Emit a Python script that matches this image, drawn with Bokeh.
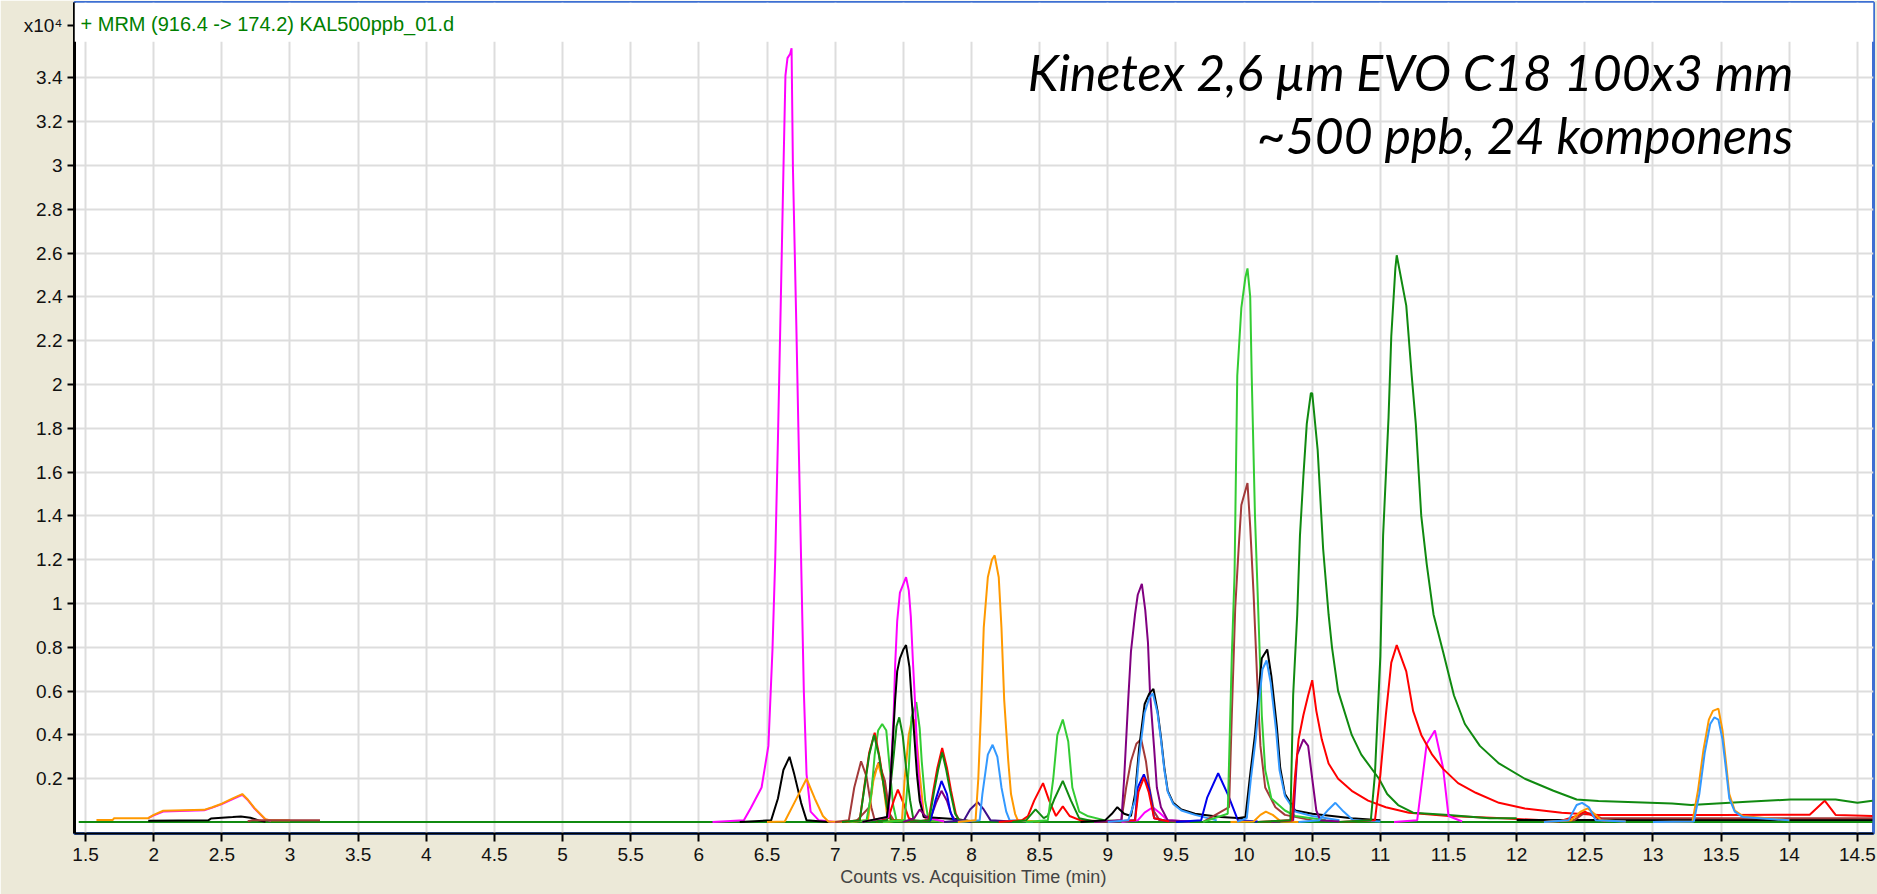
from bokeh.plotting import figure
from bokeh.models import FixedTicker, Label, BoxAnnotation, Range1d, CustomJSTickFormatter
from bokeh.embed import file_html
from bokeh.resources import INLINE

# ---------------- axis ticks ----------------
x_ticks = [1.5, 2.0, 2.5, 3.0, 3.5, 4.0, 4.5, 5.0, 5.5, 6.0, 6.5, 7.0, 7.5, 8.0, 8.5,
           9.0, 9.5, 10.0, 10.5, 11.0, 11.5, 12.0, 12.5, 13.0, 13.5, 14.0, 14.5]
x_tick_labels = ["1.5", "2", "2.5", "3", "3.5", "4", "4.5", "5", "5.5", "6", "6.5", "7", "7.5",
                 "8", "8.5", "9", "9.5", "10", "10.5", "11", "11.5", "12", "12.5", "13", "13.5",
                 "14", "14.5"]
y_ticks = [0.2, 0.4, 0.6, 0.8, 1.0, 1.2, 1.4, 1.6, 1.8, 2.0, 2.2, 2.4, 2.6, 2.8, 3.0, 3.2, 3.4]
y_tick_labels = ["0.2", "0.4", "0.6", "0.8", "1", "1.2", "1.4", "1.6", "1.8", "2", "2.2", "2.4",
                 "2.6", "2.8", "3", "3.2", "3.4"]
y_exponent_pos = 3.64
y_exponent_label = "x10⁴"

# ---------------- traces (time in min, counts x10^4) ----------------
green_base_t = [1.45, 14.61]
green_base_v = [0.003, 0.003]

orange_e_t = [1.58, 1.70, 1.71, 1.96, 2.00, 2.07, 2.37, 2.43, 2.50, 2.58, 2.65, 2.69, 2.74, 2.82, 2.86, 3.00]
orange_e_v = [0.012, 0.012, 0.02, 0.02, 0.035, 0.054, 0.058, 0.07, 0.086, 0.11, 0.13, 0.105, 0.066, 0.015, 0.01, 0.01]
magenta_e_t = [1.96, 2.00, 2.07, 2.37, 2.43, 2.50, 2.58, 2.65, 2.69, 2.74, 2.82, 2.86]
magenta_e_v = [0.02, 0.033, 0.05, 0.056, 0.068, 0.084, 0.107, 0.127, 0.103, 0.064, 0.014, 0.008]
black_e_t = [1.96, 2.40, 2.42, 2.58, 2.64, 2.71, 2.77, 2.82]
black_e_v = [0.008, 0.01, 0.018, 0.025, 0.028, 0.022, 0.01, 0.004]
brown_e_t = [2.69, 2.72, 3.22]
brown_e_v = [0.006, 0.01, 0.01]

magenta_a_t = [6.10, 6.33, 6.38, 6.46, 6.51, 6.54, 6.56, 6.58, 6.60, 6.62, 6.635, 6.65, 6.67,
               6.68, 6.69, 6.715, 6.73, 6.75, 6.77, 6.79, 6.82, 6.88, 7.0]
magenta_a_v = [0.003, 0.01, 0.065, 0.16, 0.35, 0.79, 1.2, 1.75, 2.35, 2.97, 3.41, 3.49, 3.51,
               3.535, 2.99, 2.27, 1.8, 1.2, 0.6, 0.22, 0.05, 0.01, 0.003]
black_a_t = [6.3, 6.53, 6.58, 6.62, 6.665, 6.70, 6.75, 6.79, 6.95]
black_a_v = [0.003, 0.01, 0.11, 0.24, 0.30, 0.22, 0.09, 0.01, 0.003]
orange_a_t = [6.5, 6.63, 6.70, 6.79, 6.85, 6.91, 6.95, 7.1]
orange_a_v = [0.003, 0.005, 0.09, 0.20, 0.11, 0.03, 0.005, 0.003]

brown_b_t = [7.0, 7.1, 7.14, 7.19, 7.23, 7.265, 7.29, 7.4]
brown_b_v = [0.003, 0.01, 0.16, 0.28, 0.21, 0.07, 0.01, 0.005]
brown_c_t = [7.15, 7.25, 7.28, 7.32, 7.365, 7.40, 7.43, 7.6]
brown_c_v = [0.003, 0.07, 0.21, 0.275, 0.19, 0.04, 0.01, 0.005]
dgreen_b_t = [7.05, 7.18, 7.215, 7.25, 7.285, 7.32, 7.35, 7.38, 7.41, 7.6]
dgreen_b_v = [0.003, 0.01, 0.16, 0.31, 0.40, 0.31, 0.19, 0.07, 0.01, 0.005]
red_b_t = [7.05, 7.18, 7.215, 7.25, 7.29, 7.325, 7.355, 7.385, 7.41, 7.6]
red_b_v = [0.003, 0.01, 0.17, 0.32, 0.41, 0.30, 0.18, 0.06, 0.01, 0.005]
lgreen_b_t = [7.1, 7.23, 7.265, 7.29, 7.315, 7.345, 7.375, 7.40, 7.425, 7.45, 7.6]
lgreen_b_v = [0.003, 0.01, 0.13, 0.31, 0.42, 0.45, 0.42, 0.25, 0.08, 0.01, 0.005]
orange_b_t = [7.1, 7.24, 7.28, 7.315, 7.35, 7.38, 7.42, 7.55]
orange_b_v = [0.003, 0.01, 0.19, 0.27, 0.19, 0.04, 0.01, 0.005]
magenta_c_t = [7.2, 7.39, 7.41, 7.43, 7.44, 7.455, 7.475, 7.52, 7.54, 7.555, 7.57, 7.585, 7.60, 7.62, 7.65, 7.8]
magenta_c_v = [0.003, 0.025, 0.25, 0.51, 0.72, 0.92, 1.05, 1.12, 1.06, 0.94, 0.74, 0.56, 0.34, 0.13, 0.025, 0.005]
black_c_t = [7.2, 7.38, 7.40, 7.42, 7.44, 7.455, 7.475, 7.50, 7.52, 7.545, 7.56, 7.58, 7.60, 7.62, 7.65, 7.9, 8.0]
black_c_v = [0.003, 0.025, 0.13, 0.34, 0.56, 0.69, 0.75, 0.79, 0.81, 0.71, 0.57, 0.40, 0.22, 0.10, 0.025, 0.015, 0.005]
dgreen_c_t = [7.25, 7.38, 7.40, 7.43, 7.45, 7.47, 7.495, 7.52, 7.55, 7.575, 7.7]
dgreen_c_v = [0.003, 0.01, 0.13, 0.31, 0.44, 0.48, 0.40, 0.25, 0.10, 0.01, 0.005]
orange_c_t = [7.35, 7.49, 7.51, 7.54, 7.56, 7.58, 7.595, 7.62, 7.65, 7.67, 7.8]
orange_c_v = [0.003, 0.01, 0.2, 0.40, 0.46, 0.47, 0.40, 0.22, 0.04, 0.01, 0.005]
lgreen_c_t = [7.35, 7.51, 7.54, 7.56, 7.595, 7.62, 7.635, 7.66, 7.685, 7.8]
lgreen_c_v = [0.003, 0.01, 0.25, 0.48, 0.55, 0.43, 0.28, 0.10, 0.01, 0.005]
red_c_t = [7.3, 7.39, 7.43, 7.46, 7.50, 7.54, 7.6]
red_c_v = [0.003, 0.02, 0.10, 0.15, 0.09, 0.02, 0.005]
red_d_t = [7.55, 7.685, 7.72, 7.75, 7.785, 7.82, 7.85, 7.885, 7.91, 8.05]
red_d_v = [0.003, 0.01, 0.145, 0.25, 0.34, 0.25, 0.145, 0.04, 0.01, 0.005]
dgreen_d_t = [7.55, 7.69, 7.725, 7.755, 7.785, 7.815, 7.845, 7.88, 7.91, 8.05]
dgreen_d_v = [0.003, 0.01, 0.14, 0.24, 0.32, 0.24, 0.14, 0.04, 0.01, 0.005]
blue_d_t = [7.55, 7.70, 7.735, 7.78, 7.82, 7.845, 7.87, 8.0]
blue_d_v = [0.003, 0.01, 0.10, 0.19, 0.13, 0.05, 0.01, 0.005]
purple_d_t = [7.5, 7.58, 7.62, 7.66, 7.70, 7.74, 7.78, 7.82, 7.85, 7.88, 8.0]
purple_d_v = [0.003, 0.02, 0.06, 0.03, 0.02, 0.09, 0.145, 0.10, 0.04, 0.01, 0.005]
indigo_e_t = [7.8, 7.945, 7.99, 8.045, 8.09, 8.14, 8.3]
indigo_e_v = [0.003, 0.01, 0.06, 0.093, 0.06, 0.01, 0.005]
orange_f_t = [7.9, 8.03, 8.05, 8.07, 8.09, 8.12, 8.15, 8.17, 8.2, 8.22, 8.24, 8.27, 8.29, 8.32, 8.34, 8.5]
orange_f_v = [0.003, 0.01, 0.2, 0.51, 0.89, 1.12, 1.2, 1.22, 1.12, 0.89, 0.56, 0.28, 0.13, 0.04, 0.01, 0.005]
lblue_f_t = [7.9, 8.06, 8.08, 8.12, 8.155, 8.19, 8.22, 8.255, 8.28, 8.45]
lblue_f_v = [0.003, 0.01, 0.13, 0.31, 0.355, 0.30, 0.16, 0.05, 0.01, 0.005]

red_g_t = [8.2, 8.37, 8.415, 8.46, 8.525, 8.57, 8.62, 8.67, 8.72, 8.8, 9.0]
red_g_v = [0.003, 0.01, 0.03, 0.10, 0.18, 0.10, 0.03, 0.074, 0.03, 0.01, 0.005]
dgreen_g_t = [8.3, 8.40, 8.47, 8.53, 8.56, 8.61, 8.67, 8.73, 8.79, 8.9]
dgreen_g_v = [0.003, 0.01, 0.06, 0.02, 0.03, 0.11, 0.19, 0.10, 0.02, 0.005]
lgreen_g_t = [8.4, 8.56, 8.60, 8.63, 8.67, 8.71, 8.74, 8.79, 8.85, 8.98, 9.1]
lgreen_g_v = [0.003, 0.01, 0.2, 0.40, 0.47, 0.37, 0.16, 0.05, 0.03, 0.01, 0.005]

purple_h_t = [8.9, 9.10, 9.12, 9.15, 9.17, 9.20, 9.22, 9.25, 9.275, 9.295, 9.31, 9.34, 9.36, 9.39, 9.44, 9.6]
purple_h_v = [0.003, 0.01, 0.2, 0.56, 0.78, 0.95, 1.04, 1.09, 0.97, 0.82, 0.59, 0.34, 0.16, 0.07, 0.01, 0.005]
brown_h_t = [8.9, 9.10, 9.135, 9.17, 9.21, 9.245, 9.28, 9.305, 9.34, 9.38, 9.5]
brown_h_v = [0.003, 0.01, 0.16, 0.28, 0.36, 0.38, 0.28, 0.16, 0.05, 0.01, 0.005]
black_h_t = [8.8, 8.98, 9.03, 9.07, 9.12, 9.17, 9.2, 9.23, 9.27, 9.305, 9.335, 9.365, 9.39,
             9.415, 9.44, 9.48, 9.54, 9.64, 9.83, 9.98, 10.0]
black_h_v = [0.003, 0.01, 0.04, 0.07, 0.04, 0.03, 0.13, 0.34, 0.54, 0.59, 0.61, 0.51, 0.39,
             0.25, 0.145, 0.09, 0.06, 0.04, 0.025, 0.02, 0.01]
lblue_h_t = [9.0, 9.15, 9.2, 9.23, 9.27, 9.305, 9.33, 9.365, 9.39, 9.415, 9.44, 9.48, 9.54, 9.64, 9.8]
lblue_h_v = [0.003, 0.01, 0.1, 0.3, 0.5, 0.57, 0.59, 0.50, 0.38, 0.24, 0.14, 0.085, 0.055, 0.035, 0.01]
blue_h_t = [9.0, 9.2, 9.22, 9.265, 9.305, 9.34, 9.45]
blue_h_v = [0.003, 0.01, 0.16, 0.22, 0.15, 0.02, 0.005]
red_h_t = [9.0, 9.2, 9.225, 9.265, 9.30, 9.34, 9.45]
red_h_v = [0.003, 0.01, 0.14, 0.205, 0.14, 0.02, 0.005]
magenta_h_t = [9.1, 9.22, 9.27, 9.33, 9.38, 9.44, 9.6]
magenta_h_v = [0.003, 0.01, 0.045, 0.07, 0.045, 0.01, 0.005]
blue_i_t = [9.5, 9.685, 9.73, 9.81, 9.88, 9.955, 10.1]
blue_i_v = [0.003, 0.01, 0.115, 0.225, 0.13, 0.01, 0.005]

lgreen_j_t = [9.7, 9.88, 9.91, 9.93, 9.95, 9.98, 10.01, 10.025, 10.045, 10.056, 10.08, 10.105,
              10.13, 10.155, 10.2, 10.3, 10.375, 10.6]
lgreen_j_v = [0.003, 0.04, 0.76, 1.13, 2.04, 2.35, 2.49, 2.53, 2.4, 2.04, 1.4, 0.95,
              0.49, 0.24, 0.11, 0.055, 0.03, 0.01]
brown_j_t = [9.7, 9.89, 9.91, 9.935, 9.96, 9.98, 10.025, 10.045, 10.07, 10.095, 10.12, 10.155,
             10.23, 10.3, 10.5]
brown_j_v = [0.003, 0.07, 0.49, 0.98, 1.25, 1.45, 1.55, 1.35, 1.04, 0.67, 0.35, 0.16,
             0.07, 0.035, 0.01]
black_j_t = [9.95, 10.01, 10.045, 10.08, 10.105, 10.13, 10.17, 10.2, 10.24, 10.265, 10.3,
             10.375, 10.5, 10.79, 11.0]
black_j_v = [0.02, 0.025, 0.22, 0.40, 0.58, 0.75, 0.79, 0.67, 0.44, 0.25, 0.13,
             0.055, 0.04, 0.02, 0.01]
lblue_j_t = [9.95, 10.02, 10.05, 10.085, 10.11, 10.135, 10.165, 10.195, 10.235, 10.26, 10.3,
             10.375, 10.5, 10.7]
lblue_j_v = [0.003, 0.02, 0.2, 0.38, 0.55, 0.70, 0.74, 0.64, 0.42, 0.24, 0.12,
             0.05, 0.03, 0.01]
orange_j_t = [9.9, 10.07, 10.12, 10.16, 10.21, 10.27, 10.4]
orange_j_v = [0.003, 0.005, 0.035, 0.05, 0.035, 0.005, 0.003]

dgreen_k_t = [10.1, 10.34, 10.36, 10.39, 10.41, 10.435, 10.46, 10.49, 10.5, 10.54, 10.58, 10.62,
              10.645, 10.69, 10.79, 10.86, 10.99, 11.05, 11.13, 11.24, 11.5, 11.8, 12.0]
dgreen_k_v = [0.003, 0.01, 0.58, 0.95, 1.31, 1.58, 1.82, 1.96, 1.96, 1.7, 1.25, 0.95,
              0.8, 0.6, 0.4, 0.31, 0.2, 0.13, 0.08, 0.045, 0.035, 0.02, 0.02]
red_k_t = [10.1, 10.35, 10.375, 10.40, 10.435, 10.47, 10.50, 10.53, 10.57, 10.62, 10.69, 10.79,
           10.91, 11.04, 11.21, 11.5, 11.9, 12.2]
red_k_v = [0.003, 0.01, 0.22, 0.38, 0.49, 0.58, 0.65, 0.51, 0.38, 0.27, 0.2, 0.145,
           0.10, 0.07, 0.045, 0.03, 0.02, 0.01]
purple_k_t = [10.2, 10.36, 10.39, 10.435, 10.47, 10.5, 10.53, 10.56, 10.7]
purple_k_v = [0.003, 0.01, 0.31, 0.38, 0.35, 0.2, 0.055, 0.01, 0.005]
lblue_k_t = [10.4, 10.55, 10.62, 10.67, 10.73, 10.8, 11.0]
lblue_k_v = [0.003, 0.01, 0.06, 0.09, 0.05, 0.01, 0.005]

dgreen_l_t = [10.7, 10.93, 10.96, 11.0, 11.02, 11.06, 11.08, 11.11, 11.12, 11.19, 11.23, 11.26,
              11.3, 11.34, 11.39, 11.46, 11.54, 11.62, 11.73, 11.87, 12.06, 12.27, 12.44, 12.6,
              13.14, 13.28, 13.69, 14.01, 14.34, 14.5, 14.61]
dgreen_l_v = [0.003, 0.01, 0.22, 0.76, 1.31, 1.85, 2.22, 2.53, 2.59, 2.36, 2.04, 1.82,
              1.4, 1.18, 0.95, 0.78, 0.58, 0.45, 0.35, 0.27, 0.2, 0.145, 0.105, 0.098,
              0.087, 0.08, 0.095, 0.105, 0.105, 0.09, 0.1]
red_l_t = [10.7, 10.96, 11.0, 11.04, 11.08, 11.12, 11.19, 11.24, 11.3, 11.38, 11.46, 11.57,
           11.7, 11.87, 12.06, 12.33, 12.6, 13.0, 13.5, 14.15, 14.26, 14.34, 14.61]
red_l_v = [0.003, 0.01, 0.22, 0.49, 0.73, 0.81, 0.69, 0.51, 0.4, 0.31, 0.245, 0.18,
           0.136, 0.09, 0.064, 0.045, 0.035, 0.035, 0.035, 0.036, 0.1, 0.035, 0.03]
magenta_l_t = [11.1, 11.27, 11.34, 11.40, 11.46, 11.50, 11.6]
magenta_l_v = [0.003, 0.01, 0.36, 0.42, 0.25, 0.03, 0.005]

lblue_m_t = [12.2, 12.38, 12.44, 12.48, 12.53, 12.58, 12.8]
lblue_m_v = [0.003, 0.01, 0.08, 0.09, 0.07, 0.01, 0.005]
orange_m_t = [12.2, 12.40, 12.47, 12.52, 12.57, 12.62, 12.8]
orange_m_v = [0.003, 0.01, 0.05, 0.065, 0.04, 0.01, 0.005]
brown_m_t = [12.2, 12.42, 12.5, 12.55, 12.62, 13.0, 14.61]
brown_m_v = [0.003, 0.01, 0.045, 0.04, 0.02, 0.02, 0.02]
red_m_t = [12.3, 12.44, 12.5, 12.56, 12.65]
red_m_v = [0.003, 0.03, 0.05, 0.03, 0.005]
black_m_t = [12.0, 14.61]
black_m_v = [0.012, 0.012]

orange_n_t = [13.0, 13.29, 13.33, 13.37, 13.41, 13.44, 13.48, 13.51, 13.54, 13.56, 13.6, 13.66, 14.0]
orange_n_v = [0.003, 0.005, 0.145, 0.33, 0.47, 0.51, 0.52, 0.42, 0.25, 0.13, 0.055, 0.03, 0.01]
lblue_n_t = [13.0, 13.3, 13.34, 13.38, 13.42, 13.45, 13.48, 13.51, 13.54, 13.56, 13.6, 13.66, 14.0]
lblue_n_v = [0.003, 0.005, 0.13, 0.32, 0.45, 0.48, 0.47, 0.38, 0.22, 0.11, 0.05, 0.025, 0.01]

MAGENTA, BLACK, ORANGE, BROWN = "#FF00FF", "#000000", "#FF9900", "#A33A3A"
DGREEN, LGREEN, RED, BLUE = "#108A10", "#33CC33", "#FF0000", "#0000EE"
LBLUE, PURPLE, INDIGO = "#3399FF", "#800080", "#40108A"

traces = [
    (green_base_t, green_base_v, DGREEN),
    (magenta_e_t, magenta_e_v, MAGENTA), (orange_e_t, orange_e_v, ORANGE),
    (black_e_t, black_e_v, BLACK), (brown_e_t, brown_e_v, BROWN),
    (magenta_a_t, magenta_a_v, MAGENTA), (black_a_t, black_a_v, BLACK), (orange_a_t, orange_a_v, ORANGE),
    (brown_b_t, brown_b_v, BROWN), (brown_c_t, brown_c_v, BROWN),
    (orange_b_t, orange_b_v, ORANGE), (lgreen_b_t, lgreen_b_v, LGREEN),
    (red_b_t, red_b_v, RED), (dgreen_b_t, dgreen_b_v, DGREEN),
    (red_c_t, red_c_v, RED), (orange_c_t, orange_c_v, ORANGE), (lgreen_c_t, lgreen_c_v, LGREEN),
    (dgreen_c_t, dgreen_c_v, DGREEN), (magenta_c_t, magenta_c_v, MAGENTA), (black_c_t, black_c_v, BLACK),
    (purple_d_t, purple_d_v, PURPLE), (blue_d_t, blue_d_v, BLUE),
    (red_d_t, red_d_v, RED), (dgreen_d_t, dgreen_d_v, DGREEN),
    (indigo_e_t, indigo_e_v, INDIGO), (lblue_f_t, lblue_f_v, LBLUE), (orange_f_t, orange_f_v, ORANGE),
    (red_g_t, red_g_v, RED), (dgreen_g_t, dgreen_g_v, DGREEN), (lgreen_g_t, lgreen_g_v, LGREEN),
    (magenta_h_t, magenta_h_v, MAGENTA), (brown_h_t, brown_h_v, BROWN), (purple_h_t, purple_h_v, PURPLE),
    (blue_h_t, blue_h_v, BLUE), (red_h_t, red_h_v, RED),
    (black_h_t, black_h_v, BLACK), (lblue_h_t, lblue_h_v, LBLUE),
    (blue_i_t, blue_i_v, BLUE),
    (orange_j_t, orange_j_v, ORANGE), (brown_j_t, brown_j_v, BROWN), (lgreen_j_t, lgreen_j_v, LGREEN),
    (black_j_t, black_j_v, BLACK), (lblue_j_t, lblue_j_v, LBLUE),
    (purple_k_t, purple_k_v, PURPLE), (lblue_k_t, lblue_k_v, LBLUE),
    (red_k_t, red_k_v, RED), (dgreen_k_t, dgreen_k_v, DGREEN),
    (magenta_l_t, magenta_l_v, MAGENTA), (red_l_t, red_l_v, RED), (dgreen_l_t, dgreen_l_v, DGREEN),
    (black_m_t, black_m_v, BLACK), (brown_m_t, brown_m_v, BROWN), (red_m_t, red_m_v, RED),
    (orange_m_t, orange_m_v, ORANGE), (lblue_m_t, lblue_m_v, LBLUE),
    (orange_n_t, orange_n_v, ORANGE), (lblue_n_t, lblue_n_v, LBLUE),
]

title_text = "+ MRM (916.4 -> 174.2) KAL500ppb_01.d"
note_line1 = "Kinetex 2,6 µm EVO C18 100x3 mm"
note_line2 = "~500 ppb, 24 komponens"
x_label = "Counts vs. Acquisition Time (min)"

# ---------------- figure ----------------
p = figure(width=1877, height=894, output_backend="svg", toolbar_location=None,
           x_range=Range1d(1.419, 14.618), y_range=Range1d(-0.05, 3.744),
           min_border_left=74, min_border_right=4, min_border_top=2, min_border_bottom=61)
p.border_fill_color = "#ECE9D8"
p.background_fill_color = "white"
p.outline_line_color = "#3D6FD2"
p.outline_line_width = 3

fmt_code = """
const i = tvals.indexOf(tick);
if (i >= 0) { return tlabels[i]; }
return String(Math.round(tick * 10) / 10);
"""
y_all_ticks = y_ticks + [y_exponent_pos]
y_all_labels = y_tick_labels + [y_exponent_label]
p.xaxis.ticker = FixedTicker(ticks=x_ticks)
p.xaxis.formatter = CustomJSTickFormatter(args=dict(tvals=x_ticks, tlabels=x_tick_labels), code=fmt_code)
p.yaxis.ticker = FixedTicker(ticks=y_all_ticks)
p.yaxis.formatter = CustomJSTickFormatter(args=dict(tvals=y_all_ticks, tlabels=y_all_labels), code=fmt_code)
p.xgrid.ticker = FixedTicker(ticks=x_ticks)
p.ygrid.ticker = FixedTicker(ticks=y_ticks)
for g in (p.xgrid, p.ygrid):
    g.grid_line_color = "#DDDDDD"
    g.grid_line_width = 2

for ax in (p.xaxis, p.yaxis):
    ax.axis_line_color = "black"
    ax.major_tick_line_color = "black"
    ax.major_tick_line_width = 2
    ax.major_tick_in = 0
    ax.minor_tick_line_color = None
    ax.major_label_text_font = "Liberation Sans"
    ax.major_label_text_font_size = "19px"
    ax.major_label_text_color = "#111111"
p.xaxis.axis_line_width = 2
p.xaxis.major_tick_out = 8
p.xaxis.major_label_standoff = 6
p.xaxis.axis_label = x_label
p.xaxis.axis_label_text_font = "Liberation Sans"
p.xaxis.axis_label_text_font_size = "18px"
p.xaxis.axis_label_text_font_style = "normal"
p.xaxis.axis_label_standoff = 3
p.yaxis.axis_line_width = 3
p.yaxis.major_tick_out = 7
p.yaxis.major_label_standoff = 5

for t, v, c in traces:
    p.line(t, v, line_color=c, line_width=2)

p.add_layout(BoxAnnotation(left=1.419, right=14.618, bottom=3.565, top=3.744,
                           fill_color="white", fill_alpha=1.0, line_alpha=0))

p.add_layout(Label(x=1.463, y=3.644, text=title_text, text_color="#008000",
                   text_font="Liberation Sans", text_font_size="20px",
                   text_baseline="middle", text_align="left"))
p.add_layout(Label(x=14.03, y=3.425, text=note_line1, text_color="black",
                   text_font="Lato", text_font_style="italic", text_font_size="50px",
                   text_baseline="middle", text_align="right"))
p.add_layout(Label(x=14.03, y=3.14, text=note_line2, text_color="black",
                   text_font="Lato", text_font_style="italic", text_font_size="50px",
                   text_baseline="middle", text_align="right"))

open("out.html", "w").write(file_html(p, INLINE))
